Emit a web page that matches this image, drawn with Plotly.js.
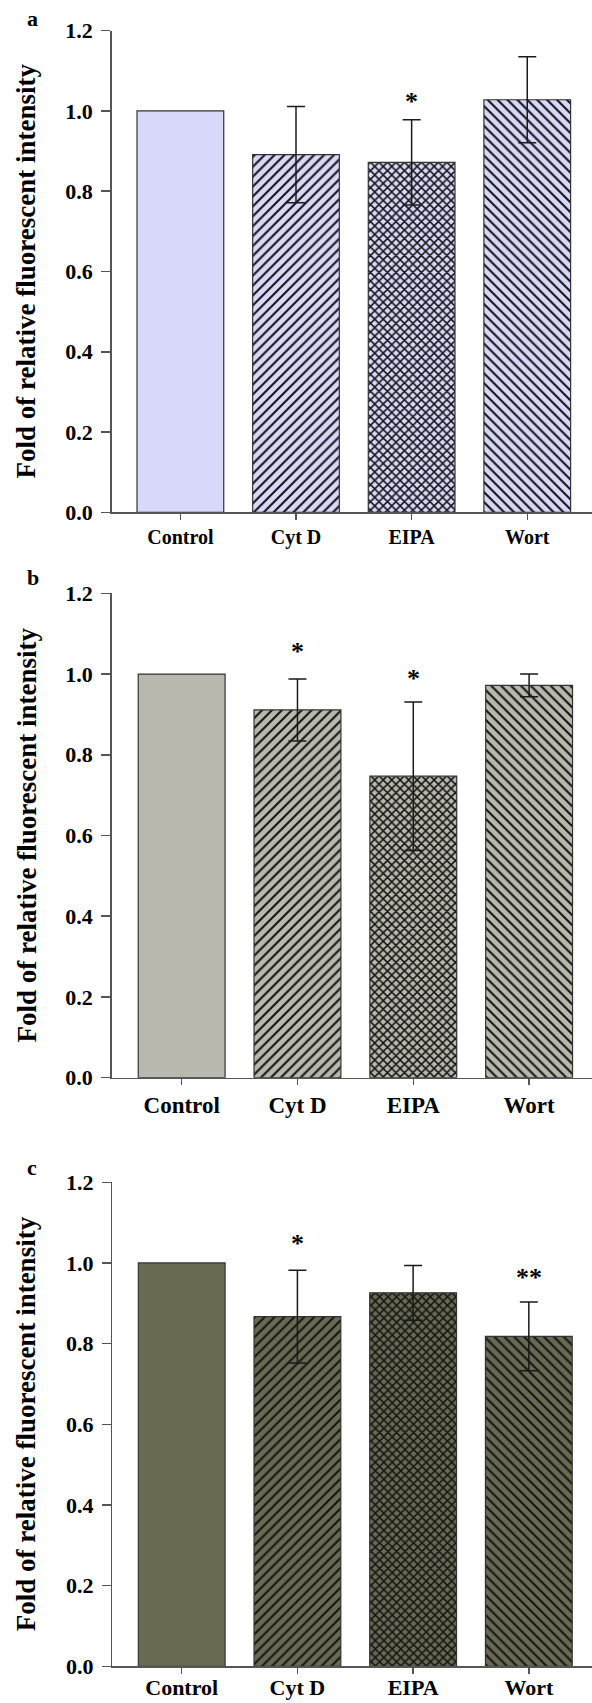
<!DOCTYPE html>
<html>
<head>
<meta charset="utf-8">
<script src="https://cdn.plot.ly/plotly-3.0.1.min.js"></script>
<style>html,body{margin:0;padding:0;background:#fff;}</style>
</head>
<body>
<div id="chart" style="width:592px;height:1703px;"></div>
<script>
// ---- data ----
const categories = ['Control', 'Cyt D', 'EIPA', 'Wort'];
const patterns = ['', '/', 'x', '\\'];

const valuesA = [1.0, 0.891, 0.872, 1.028];
const errorsA = [null, 0.120, 0.106, 0.107];
const sigTextA = ['', '', '*', ''];
const sigPosA = [null, null, 1.024, null];

const valuesB = [1.0, 0.911, 0.747, 0.972];
const errorsB = [null, 0.077, 0.184, 0.028];
const sigTextB = ['', '*', '*', ''];
const sigPosB = [null, 1.057, 0.990, null];

const valuesC = [1.0, 0.867, 0.926, 0.818];
const errorsC = [null, 0.115, 0.068, 0.085];
const sigTextC = ['', '*', '', '**'];
const sigPosC = [null, 1.048, null, 0.964];

const yTickVals = [0.0, 0.2, 0.4, 0.6, 0.8, 1.0, 1.2];
const yTickText = ['0.0', '0.2', '0.4', '0.6', '0.8', '1.0', '1.2'];
const panelLetters = ['a', 'b', 'c'];
const yTitle = 'Fold of relative fluorescent intensity';

// ---- layout helpers ----
const W = 592, H = 1703;
const FONT = 'Liberation Serif, Times New Roman, serif';
const px = v => v / W;
const py = v => 1 - v / H;

const panels = [
  {vals: valuesA, errs: errorsA, sigT: sigTextA, sigP: sigPosA, color: '#d8d8fa',
   axisX: 111.7, y0: 512.3, y12: 30.7, xr: [-0.594, 3.56], xfont: 20, xstand: 0, letter: [32, 18]},
  {vals: valuesB, errs: errorsB, sigT: sigTextB, sigP: sigPosB, color: '#b8b8ac',
   axisX: 111.7, y0: 1077.7, y12: 593.3, xr: [-0.604, 3.543], xfont: 23, xstand: 0, letter: [33, 578]},
  {vals: valuesC, errs: errorsC, sigT: sigTextC, sigP: sigPosC, color: '#6a6a52',
   axisX: 112.3, y0: 1666.3, y12: 1182.3, xr: [-0.6, 3.546], xfont: 22, xstand: -5, letter: [32, 1167]}
];

const data = [];
const layout = {
  width: W, height: H,
  margin: {l: 0, r: 0, t: 0, b: 0, pad: 0},
  paper_bgcolor: '#fff', plot_bgcolor: '#fff',
  showlegend: false,
  font: {family: FONT, color: '#000'},
  annotations: []
};

panels.forEach((p, i) => {
  const n = i === 0 ? '' : String(i + 1);
  const xa = 'x' + n, ya = 'y' + n;
  data.push({
    type: 'bar', x: categories, y: p.vals, xaxis: xa, yaxis: ya, width: 0.75,
    marker: {
      color: p.color,
      line: {color: '#333', width: 1.2},
      pattern: {shape: patterns, bgcolor: p.color, fgcolor: '#151515', fgopacity: 1,
                size: [8, 7, 6, 7], solidity: [0.3, 0.3, 0.45, 0.3]}
    },
    error_y: {type: 'data', array: p.errs.map(e => (e == null ? NaN : e)), visible: true,
              color: '#1a1a1a', thickness: 1.5, width: 9},
    hoverinfo: 'none'
  });
  layout['xaxis' + n] = {
    domain: [px(p.axisX), 1], anchor: ya, range: p.xr, type: 'category',
    showline: true, linecolor: '#555', linewidth: 1.5,
    ticks: 'outside', ticklen: 6, tickwidth: 1.5, tickcolor: '#555',
    ticklabelstandoff: p.xstand,
    tickfont: {family: FONT, size: p.xfont, weight: 'bold', color: '#000'},
    showgrid: false, zeroline: false, fixedrange: true
  };
  layout['yaxis' + n] = {
    domain: [py(p.y0), py(p.y12)], anchor: xa, range: [0, 1.2],
    tickvals: yTickVals, ticktext: yTickText,
    showline: true, linecolor: '#555', linewidth: 1.5,
    ticks: 'outside', ticklen: 9, tickwidth: 1.5, tickcolor: '#555',
    ticklabelstandoff: 4,
    tickfont: {family: FONT, size: 22, weight: 'bold', color: '#000'},
    showgrid: false, zeroline: false, fixedrange: true
  };
  // significance marks
  categories.forEach((c, k) => {
    if (p.sigT[k]) {
      layout.annotations.push({
        xref: xa, yref: ya, x: c, y: p.sigP[k], text: p.sigT[k], showarrow: false,
        yanchor: 'middle', yshift: 0,
        font: {family: FONT, size: 26, weight: 'bold', color: '#000'}
      });
    }
  });
  // y title
  layout.annotations.push({
    xref: 'paper', yref: 'paper', x: px(26), y: py((p.y0 + p.y12) / 2),
    text: yTitle, textangle: -90, showarrow: false, xanchor: 'center', yanchor: 'middle',
    font: {family: FONT, size: 27, weight: 'bold', color: '#000'}
  });
  // panel letter
  layout.annotations.push({
    xref: 'paper', yref: 'paper', x: px(p.letter[0]), y: py(p.letter[1]),
    text: panelLetters[i], showarrow: false, xanchor: 'center', yanchor: 'middle',
    font: {family: FONT, size: 22, weight: 'bold', color: '#000'}
  });
});

Plotly.newPlot('chart', data, layout, {staticPlot: true, displayModeBar: false});
</script>
</body>
</html>
